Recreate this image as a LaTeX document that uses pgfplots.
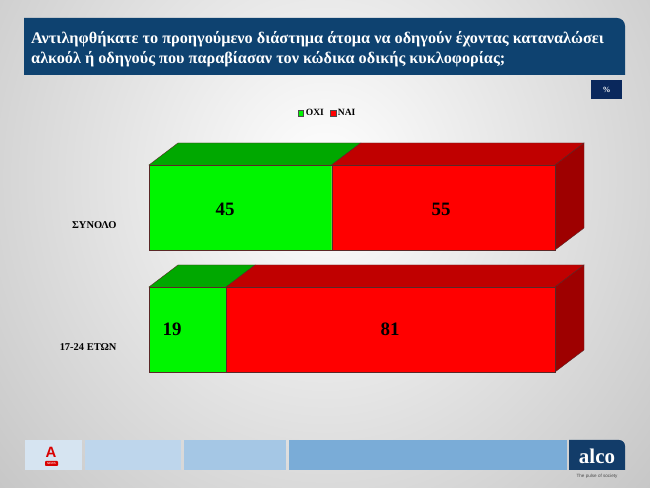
\documentclass[border=0pt]{standalone}
\usepackage{pgfplots}
\pgfplotsset{compat=1.18}
\usepackage{fontspec}
\setmainfont{Liberation Serif}
\setsansfont{Liberation Sans}
\definecolor{greenfront}{RGB}{0,245,0}
\definecolor{greentop}{RGB}{0,168,0}
\definecolor{redfront}{RGB}{255,0,0}
\definecolor{redtop}{RGB}{192,0,0}
\definecolor{redside}{RGB}{158,0,0}
\definecolor{edgecol}{RGB}{90,40,40}
\definecolor{titleblue}{RGB}{14,66,112}
\definecolor{pctblue}{RGB}{10,40,92}
\definecolor{foot1}{RGB}{214,228,241}
\definecolor{foot2}{RGB}{190,214,236}
\definecolor{foot3}{RGB}{165,199,229}
\definecolor{foot4}{RGB}{122,172,215}
\definecolor{alcoblue}{RGB}{18,60,105}
\begin{document}
\begin{tikzpicture}[x=1bp,y=1bp]
% background
\begin{scope}
\clip (0,0) rectangle (650,488);
\shade[inner color=white, outer color=black!24] (-150,-200) rectangle (800,820);
\end{scope}
% title box
\fill[titleblue] (24,413) -- (24,470) -- (617,470) arc[start angle=90,end angle=0,radius=8] -- (625,413) -- cycle;
\node[anchor=base west, text=white, inner sep=0pt,
      font=\bfseries\fontsize{16.3}{19}\selectfont] at (31,444.5)
  {Αντιληφθήκατε το προηγούμενο διάστημα άτομα να οδηγούν έχοντας καταναλώσει};
\node[anchor=base west, text=white, inner sep=0pt,
      font=\bfseries\fontsize{16.3}{19}\selectfont] at (31,424.7)
  {αλκοόλ ή οδηγούς που παραβίασαν τον κώδικα οδικής κυκλοφορίας;};
% percent box
\fill[pctblue] (591,389) rectangle (622,408);
\node[text=white, font=\bfseries\fontsize{8}{9}\selectfont] at (606.5,398.5) {\%};

% axis 1: depth faces and category labels
\begin{axis}[at={(149bp,0bp)}, anchor=south west, scale only axis,
  width=406bp, height=488bp, xmin=0, xmax=100, ymin=0, ymax=488,
  clip=false, axis line style={draw=none}, major tick length=0pt,
  xtick=\empty, ytick={141,263}, yticklabels={17-24 ΕΤΩΝ,ΣΥΝΟΛΟ},
  yticklabel style={font=\bfseries\fontsize{10.5}{11}\selectfont, xshift=-29bp}]
\addplot[fill=greentop, draw=edgecol, line width=0.4pt, mark=none] coordinates {(0,323) (45,323) (52.14,345) (7.14,345)} -- cycle;
\addplot[fill=redtop, draw=edgecol, line width=0.4pt, mark=none] coordinates {(45,323) (100,323) (107.14,345) (52.14,345)} -- cycle;
\addplot[fill=redside, draw=edgecol, line width=0.4pt, mark=none] coordinates {(100,323) (107.14,345) (107.14,260) (100,238)} -- cycle;
\addplot[fill=greentop, draw=edgecol, line width=0.4pt, mark=none] coordinates {(0,201) (19,201) (26.14,223) (7.14,223)} -- cycle;
\addplot[fill=redtop, draw=edgecol, line width=0.4pt, mark=none] coordinates {(19,201) (100,201) (107.14,223) (26.14,223)} -- cycle;
\addplot[fill=redside, draw=edgecol, line width=0.4pt, mark=none] coordinates {(100,201) (107.14,223) (107.14,138) (100,116)} -- cycle;
\end{axis}

% axis 2: front faces (stacked bars), legend
\begin{axis}[at={(149bp,0bp)}, anchor=south west, scale only axis,
  width=406bp, height=488bp, xmin=0, xmax=100, ymin=0, ymax=488,
  clip=false, hide axis, xbar stacked, bar width=85,
  legend columns=2,
  legend style={at={(0.440,0.768)}, anchor=center, draw=none, fill=none,
    font=\bfseries\fontsize{9.6}{10}\selectfont,
    /tikz/every even column/.append style={column sep=4bp}},
  legend image code/.code={\draw[#1, draw=black!70, line width=0.4pt] (0bp,-2.8bp) rectangle (5.6bp,2.8bp);}]
\addplot[fill=greenfront, draw=edgecol, line width=0.4pt] coordinates {(45,280.5) (19,158.5)};
\addplot[fill=redfront, draw=edgecol, line width=0.4pt] coordinates {(55,280.5) (81,158.5)};
\legend{ΟΧΙ,ΝΑΙ}
\end{axis}
% value labels
\node[font=\bfseries\fontsize{19}{20}\selectfont] at (225,279) {45};
\node[font=\bfseries\fontsize{19}{20}\selectfont] at (441,279) {55};
\node[font=\bfseries\fontsize{19}{20}\selectfont] at (172,159) {19};
\node[font=\bfseries\fontsize{19}{20}\selectfont] at (390,159) {81};

% footer
\fill[foot1] (25,18) rectangle (82,48);
\fill[foot2] (85,18) rectangle (181,48);
\fill[foot3] (184,18) rectangle (286,48);
\fill[foot4] (289,18) rectangle (567,48);
\fill[alcoblue] (569,18) -- (569,48) -- (619,48) arc[start angle=90,end angle=0,radius=6] -- (625,18) -- cycle;
\node[text=white, font=\bfseries\fontsize{21}{21}\selectfont] at (597,32) {alco};
\node[text=black!70, font=\sffamily\fontsize{4.6}{5}\selectfont] at (597,12) {The pulse of society};
\node[text=red!85!black, font=\sffamily\bfseries\fontsize{15}{15}\selectfont] at (51,36) {A};
\fill[red!85!black, rounded corners=1] (45,22) rectangle (58,27);
\node[text=white, font=\sffamily\fontsize{3}{3}\selectfont] at (51.5,24.5) {NEWS};
\pgfresetboundingbox
\path[use as bounding box] (0,0) rectangle (650,488);
\end{tikzpicture}
\end{document}
